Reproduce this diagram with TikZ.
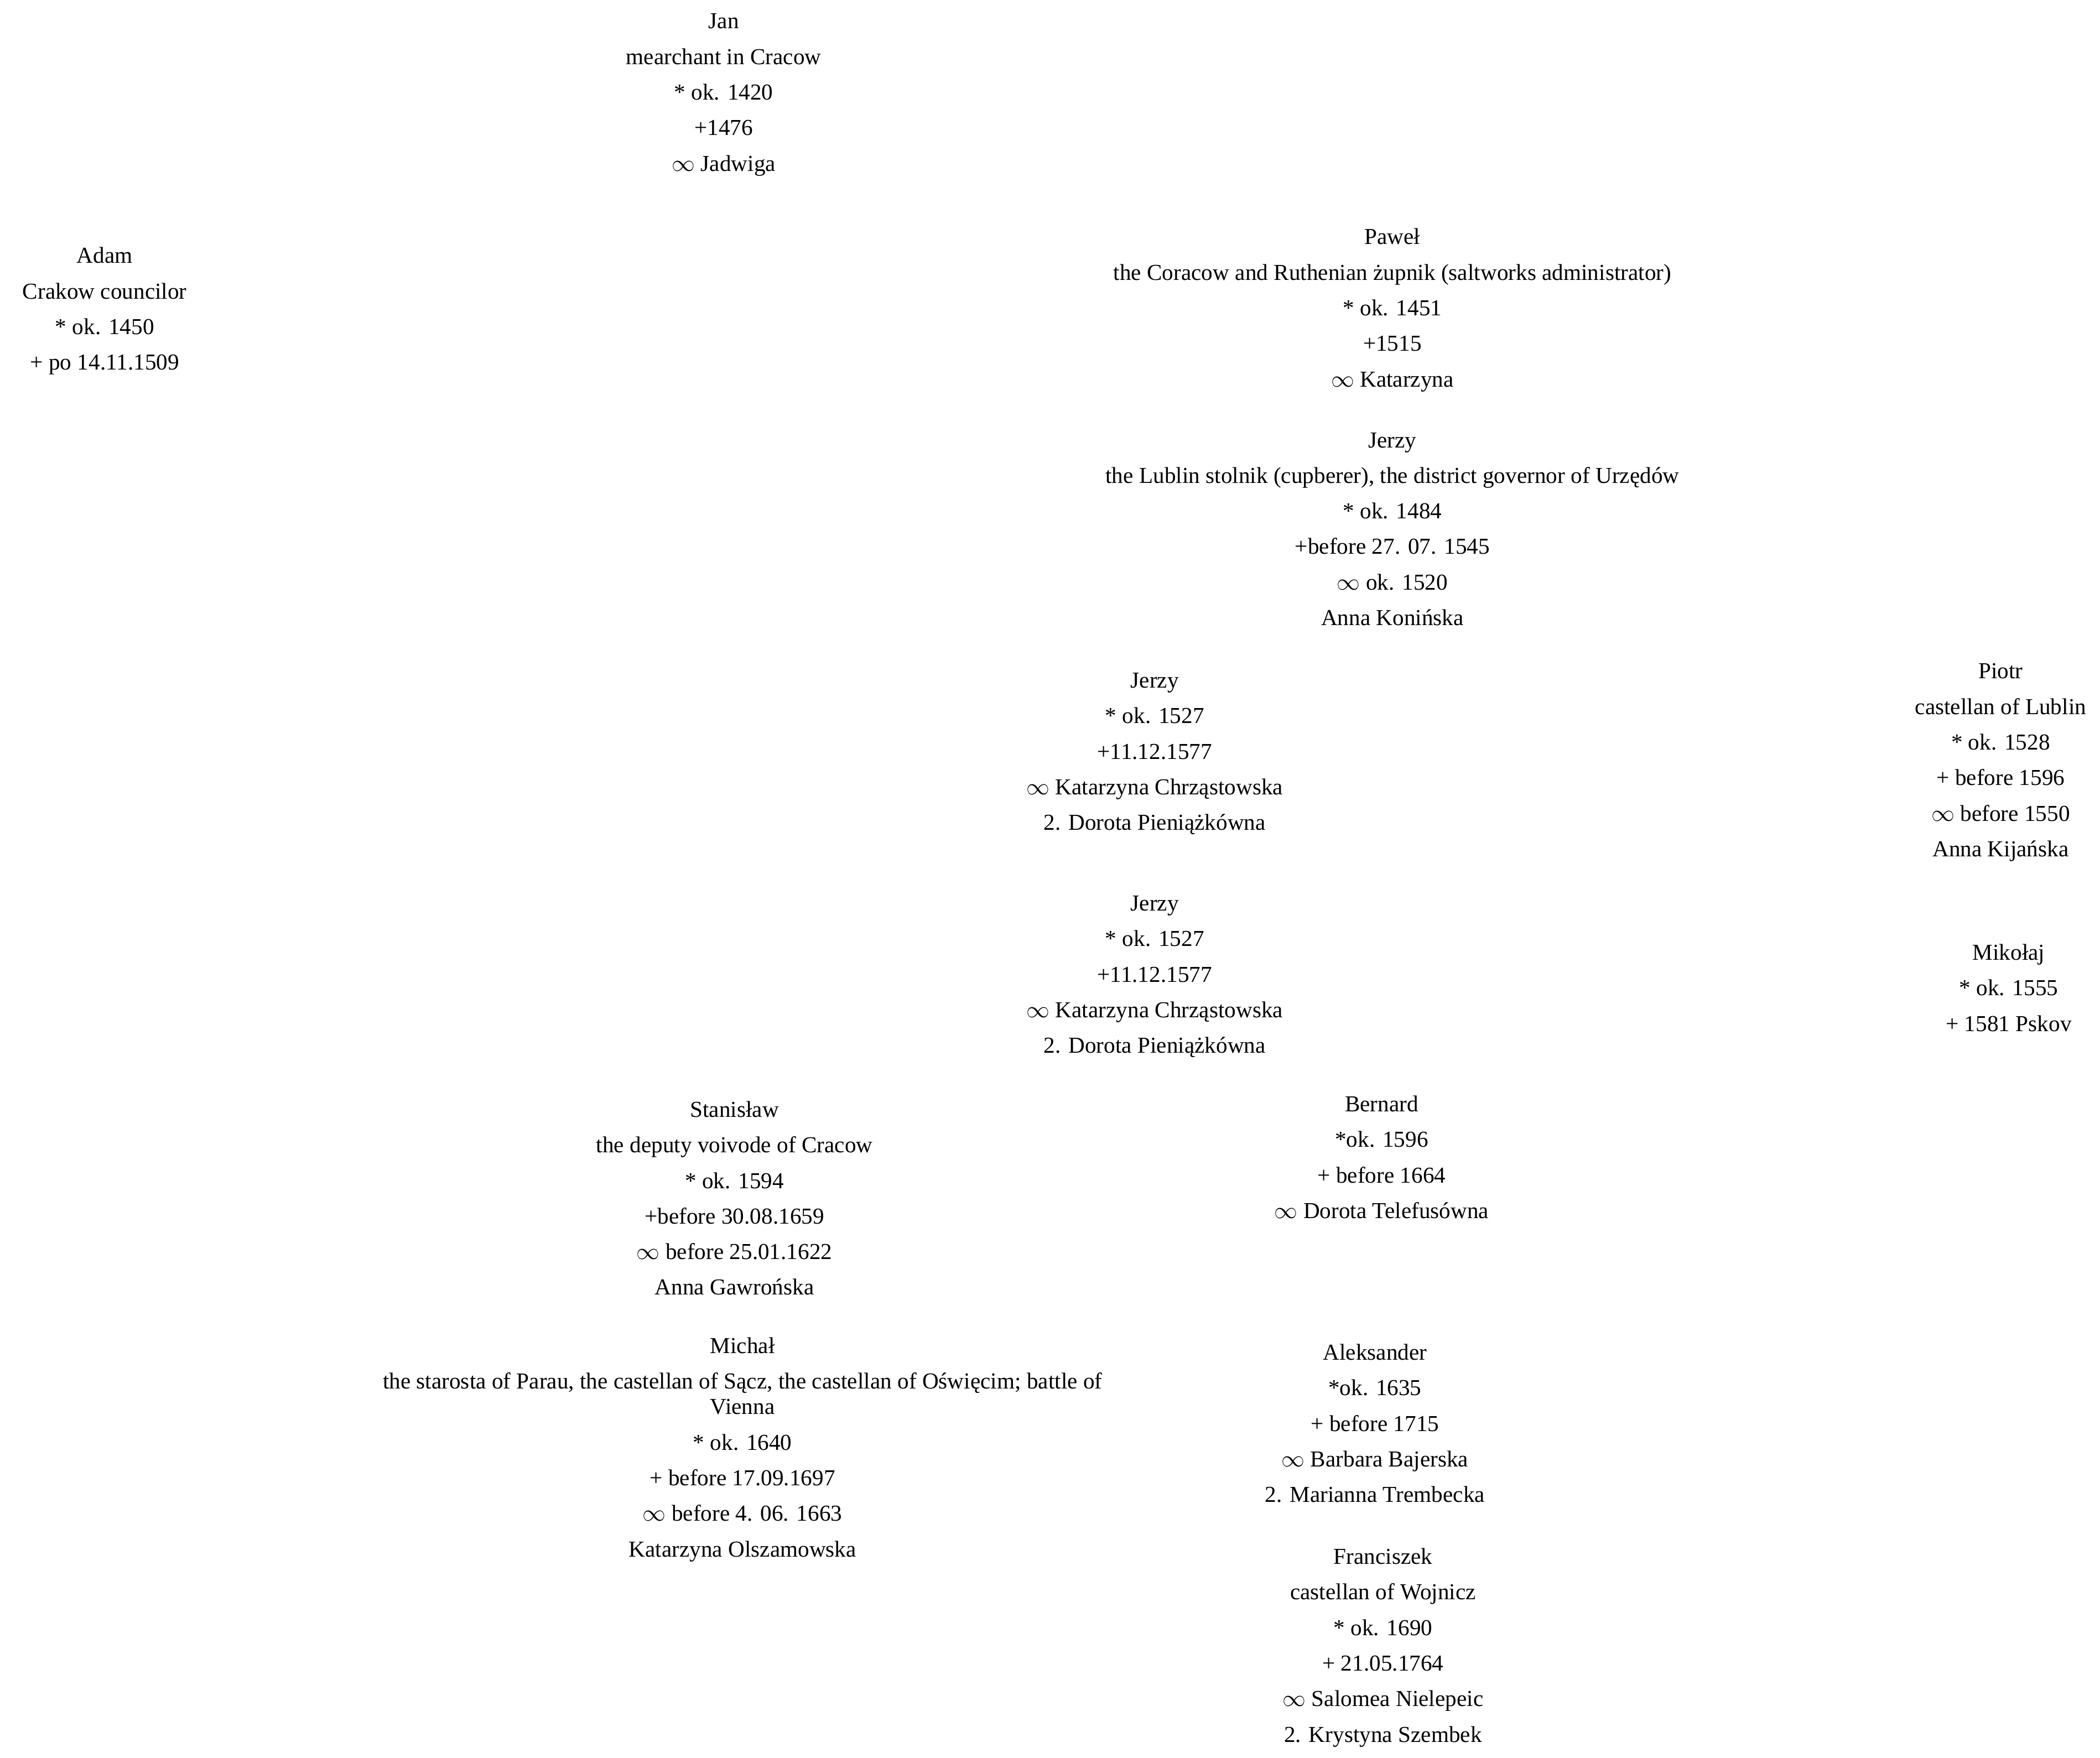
\documentclass[tikz,border=0pt]{standalone}
\usepackage{fontspec}
\setmainfont{Liberation Serif}
\begin{document}
\begin{tikzpicture}[x=1pt,y=-1pt,
  blk/.style={anchor=north,inner sep=0pt,align=center,font=\fontsize{17}{26.5}\selectfont}]
\useasboundingbox (0,0) rectangle (1564,1309);
\node[blk] (jan) at (539,10) {Jan\\mearchant in Cracow\\* ok. 1420\\+1476\\$\infty$ Jadwiga};
\node[blk] (adam) at (78,184) {Adam\\Crakow councilor\\* ok. 1450\\+ po 14.11.1509};
\node[blk] (pawel) at (1037,170) {Paweł\\the Coracow and Ruthenian żupnik (saltworks administrator)\\* ok. 1451\\+1515\\$\infty$ Katarzyna};
\node[blk] (jerzy1) at (1037,322) {Jerzy\\the Lublin stolnik (cupberer), the district governor of Urzędów\\* ok. 1484\\+before 27. 07. 1545\\$\infty$ ok. 1520\\Anna Konińska};
\node[blk] (jerzy2) at (860,501) {Jerzy\\* ok. 1527\\+11.12.1577\\$\infty$ Katarzyna Chrząstowska\\2. Dorota Pieniążkówna};
\node[blk] (piotr) at (1490,494) {Piotr\\castellan of Lublin\\* ok. 1528\\+ before 1596\\$\infty$ before 1550\\Anna Kijańska};
\node[blk] (jerzy3) at (860,667) {Jerzy\\* ok. 1527\\+11.12.1577\\$\infty$ Katarzyna Chrząstowska\\2. Dorota Pieniążkówna};
\node[blk] (mikolaj) at (1496,703) {Mikołaj\\* ok. 1555\\+ 1581 Pskov};
\node[blk] (stanislaw) at (547,820) {Stanisław\\the deputy voivode of Cracow\\* ok. 1594\\+before 30.08.1659\\$\infty$ before 25.01.1622\\Anna Gawrońska};
\node[blk] (bernard) at (1029,816) {Bernard\\*ok. 1596\\+ before 1664\\$\infty$ Dorota Telefusówna};
\node[blk] (michal) at (553,996) {Michał\\the starosta of Parau, the castellan of Sącz, the castellan of Oświęcim; battle of\\[-7.5pt]Vienna\\* ok. 1640\\+ before 17.09.1697\\$\infty$ before 4. 06. 1663\\Katarzyna Olszamowska};
\node[blk] (aleksander) at (1024,1001) {Aleksander\\*ok. 1635\\+ before 1715\\$\infty$ Barbara Bajerska\\2. Marianna Trembecka};
\node[blk] (franciszek) at (1030,1153) {Franciszek\\castellan of Wojnicz\\* ok. 1690\\+ 21.05.1764\\$\infty$ Salomea Nielepeic\\2. Krystyna Szembek};
\end{tikzpicture}
\end{document}
